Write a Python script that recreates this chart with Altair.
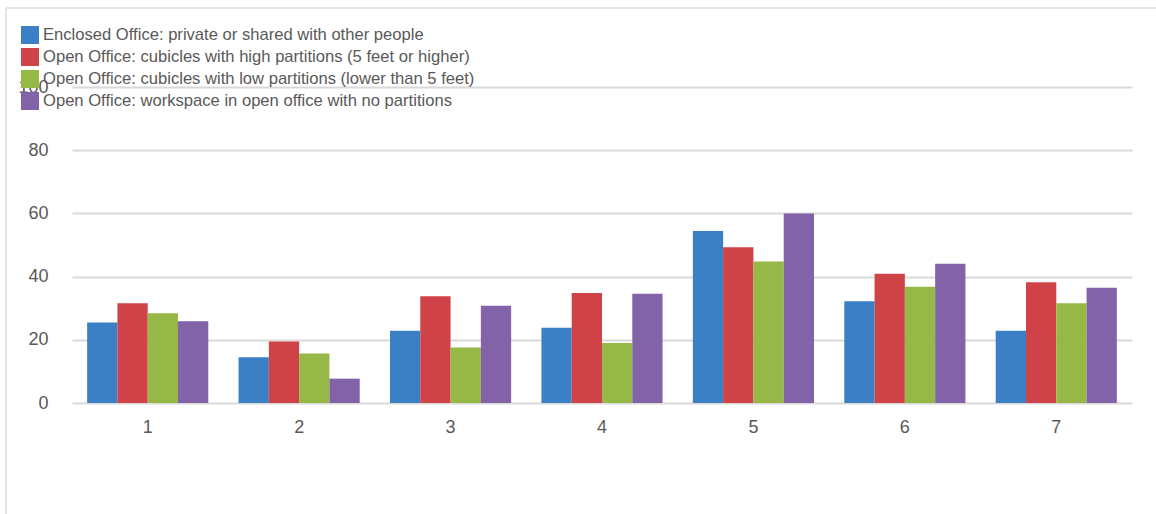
import altair as alt
import pandas as pd

groups = ["1", "2", "3", "4", "5", "6", "7"]
series = [
    "Enclosed Office: private or shared with other people",
    "Open Office: cubicles with high partitions (5 feet or higher)",
    "Open Office: cubicles with low partitions (lower than 5 feet)",
    "Open Office: workspace in open office with no partitions",
]
enclosed = [25.5, 14.5, 22.9, 23.8, 54.4, 32.2, 22.9]
high_part = [31.6, 19.5, 33.8, 34.8, 49.3, 40.9, 38.2]
low_part = [28.4, 15.7, 17.6, 19.0, 44.8, 36.8, 31.6]
no_part = [25.9, 7.7, 30.8, 34.6, 60.0, 44.1, 36.5]
colors = ["#3b7fc4", "#cf4247", "#95b846", "#8363a8"]
y_ticks = [0, 20, 40, 60, 80, 100]

rows = []
for s, vals in zip(series, [enclosed, high_part, low_part, no_part]):
    for g, v in zip(groups, vals):
        rows.append({"group": g, "series": s, "value": v})
df = pd.DataFrame(rows)

FONT = "Liberation Sans"
TXT = "#595959"

bars = alt.Chart(df).mark_bar().encode(
    x=alt.X("group:N", sort=groups, title=None,
            scale=alt.Scale(paddingInner=0.2, paddingOuter=0.1),
            axis=alt.Axis(labelAngle=0, ticks=False, domain=False, labelPadding=15,
                          labelFontSize=18, labelColor=TXT, labelFont=FONT, grid=False)),
    xOffset=alt.XOffset("series:N", sort=series, scale=alt.Scale(paddingInner=0, paddingOuter=0)),
    y=alt.Y("value:Q", title=None, scale=alt.Scale(domain=[0, 100], nice=False),
            axis=alt.Axis(values=y_ticks, ticks=False, domain=False, labelPadding=24,
                          labelFontSize=18, labelColor=TXT, labelFont=FONT,
                          gridColor="#d9d9d9", gridWidth=2)),
    color=alt.Color("series:N", sort=series,
                    scale=alt.Scale(domain=series, range=colors),
                    legend=alt.Legend(title=None, orient="none", legendX=-51, legendY=-61,
                                      symbolType="square", symbolSize=324, symbolStrokeWidth=0,
                                      symbolOpacity=1, labelFontSize=16.6, labelColor=TXT,
                                      labelFont=FONT, labelLimit=0, labelOffset=4,
                                      rowPadding=4, padding=0)),
)

frame_data = alt.Data(values=[{"k": 1}])
top_border = alt.Chart(frame_data).mark_rule(color="#dcdcdc", strokeWidth=1.5).encode(
    x=alt.value(-66), x2=alt.value(1090), y=alt.value(-79))
left_border = alt.Chart(frame_data).mark_rule(color="#dcdcdc", strokeWidth=1.5).encode(
    x=alt.value(-66), y=alt.value(-79), y2=alt.value(440))

chart = alt.layer(top_border, left_border, bars).properties(
    width=1060, height=316,
    autosize=alt.AutoSizeParams(type="none"),
    padding={"left": 72, "top": 87, "right": 24, "bottom": 111},
    background="white",
).configure_view(stroke=None)

chart.save("out.html", embed_options={"renderer": "svg", "actions": False})
